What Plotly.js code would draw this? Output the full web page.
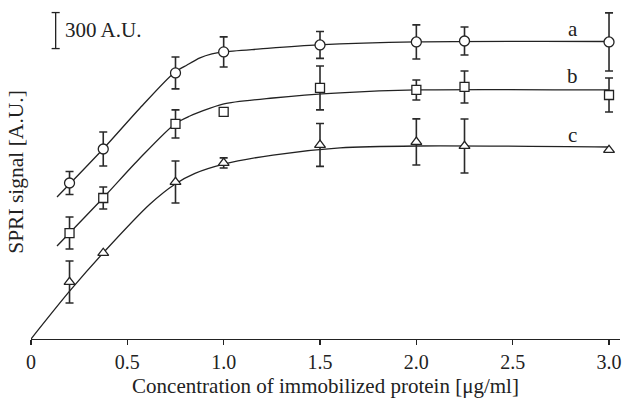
<!DOCTYPE html>
<html>
<head>
<meta charset="utf-8">
<script src="https://cdn.plot.ly/plotly-3.0.1.min.js"></script>
<style>html,body{margin:0;padding:0;background:#fff;}#chart{width:626px;height:401px;}</style>
</head>
<body>
<div id="chart"></div>
<script>
// Measured concentrations [µg/ml]
var concentrations = [0.2, 0.375, 0.75, 1.0, 1.5, 2.0, 2.25, 3.0];
// SPRI signal [A.U.] for series a, b, c
var signalA = [1300, 1583, 2217, 2392, 2450, 2475, 2483, 2475];
var signalB = [883, 1175, 1792, 1892, 2092, 2075, 2100, 2033];
var signalC = [475, 717, 1308, 1467, 1617, 1642, 1608, 1575];
// error bars (half-length) [A.U.], NaN = no bar
var errorA = [96, 142, 133, 125, 112, 142, 117, 242];
var errorB = [133, 92, 117, NaN, 183, 83, 133, 142];
var errorC = [175, NaN, 175, 42, 179, 192, 225, NaN];
// fitted curves
var fitAx = [0.135, 0.374, 0.566, 0.742, 0.810, 0.877, 0.939, 0.996, 1.19, 1.49, 2.0, 3.0];
var fitAy = [1183, 1583, 1925, 2217, 2283, 2342, 2375, 2392, 2417, 2450, 2475, 2479];
var fitBx = [0.135, 0.374, 0.566, 0.747, 0.825, 0.877, 0.996, 1.256, 1.604, 2.0, 3.0];
var fitBy = [775, 1175, 1508, 1792, 1858, 1892, 1958, 2008, 2050, 2075, 2075];
var fitCx = [0, 0.197, 0.379, 0.618, 0.747, 0.851, 0.996, 1.256, 1.604, 2.0, 3.0];
var fitCy = [0, 392, 725, 1125, 1290, 1380, 1455, 1533, 1592, 1608, 1600];
// axis ticks
var tickValues = [0, 0.5, 1.0, 1.5, 2.0, 2.5, 3.0];
var tickLabels = ['0', '0.5', '1.0', '1.5', '2.0', '2.5', '3.0'];
var seriesLabels = ['a', 'b', 'c'];
var scaleBarValue = 300;

var FONT = 'Liberation Serif, Times New Roman, serif';
var INK = '#222';

function fit(x, y) {
  return {x: x, y: y, mode: 'lines', type: 'scatter', hoverinfo: 'skip',
    line: {color: INK, width: 1.3, shape: 'spline', smoothing: 0.8}, showlegend: false};
}
function pts(y, err, symbol, size) {
  return {x: concentrations, y: y, mode: 'markers', type: 'scatter', showlegend: false,
    marker: {symbol: symbol, size: size, color: '#fff', line: {color: INK, width: 1.3}},
    error_y: {type: 'data', array: err, visible: true, color: '#2a2a2a', thickness: 1.6, width: 4}};
}

var data = [
  fit(fitAx, fitAy), fit(fitBx, fitBy), fit(fitCx, fitCy),
  pts(signalA, errorA, 'circle', 10),
  pts(signalB, errorB, 'square', 9),
  pts(signalC, errorC, 'triangle-up', 9.5)
];

var barX = 0.128, barTop = 2720, barBot = barTop - scaleBarValue;
var layout = {
  width: 626, height: 401,
  margin: {l: 31, r: 6, t: 5, b: 62},
  paper_bgcolor: '#fff', plot_bgcolor: '#fff',
  font: {family: FONT, size: 20, color: INK},
  xaxis: {
    range: [0, 3.057], showgrid: false, zeroline: false,
    showline: true, linecolor: INK, linewidth: 1.3,
    ticks: 'outside', ticklen: 5, tickwidth: 1.3, tickcolor: INK,
    tickvals: tickValues, ticktext: tickLabels,
    tickfont: {family: FONT, size: 20, color: INK},
    title: {text: 'Concentration of immobilized protein [μg/ml]', font: {family: FONT, size: 21, color: INK}, standoff: 6}
  },
  yaxis: {
    range: [0, 2783], showgrid: false, zeroline: false, showline: false,
    ticks: '', showticklabels: false,
    title: {text: 'SPRI signal [A.U.]', font: {family: FONT, size: 21.5, color: INK}, standoff: 0}
  },
  shapes: [
    {type: 'line', xref: 'x', yref: 'y', x0: barX, x1: barX, y0: barBot, y1: barTop, line: {color: INK, width: 1.3}},
    {type: 'line', xref: 'x', yref: 'y', x0: barX - 0.021, x1: barX + 0.021, y0: barTop, y1: barTop, line: {color: INK, width: 1.3}},
    {type: 'line', xref: 'x', yref: 'y', x0: barX - 0.021, x1: barX + 0.021, y0: barBot, y1: barBot, line: {color: INK, width: 1.3}}
  ],
  annotations: [
    {xref: 'x', yref: 'y', x: 0.166, y: 2572, text: scaleBarValue + ' A.U.', showarrow: false, xanchor: 'left', yanchor: 'middle', font: {family: FONT, size: 21, color: INK}},
    {xref: 'x', yref: 'y', x: 2.813, y: 2581, text: seriesLabels[0], showarrow: false, xanchor: 'center', yanchor: 'middle', font: {family: FONT, size: 21, color: INK}},
    {xref: 'x', yref: 'y', x: 2.813, y: 2189, text: seriesLabels[1], showarrow: false, xanchor: 'center', yanchor: 'middle', font: {family: FONT, size: 21, color: INK}},
    {xref: 'x', yref: 'y', x: 2.813, y: 1697, text: seriesLabels[2], showarrow: false, xanchor: 'center', yanchor: 'middle', font: {family: FONT, size: 21, color: INK}}
  ]
};

Plotly.newPlot('chart', data, layout, {staticPlot: true, displayModeBar: false});
</script>
</body>
</html>
